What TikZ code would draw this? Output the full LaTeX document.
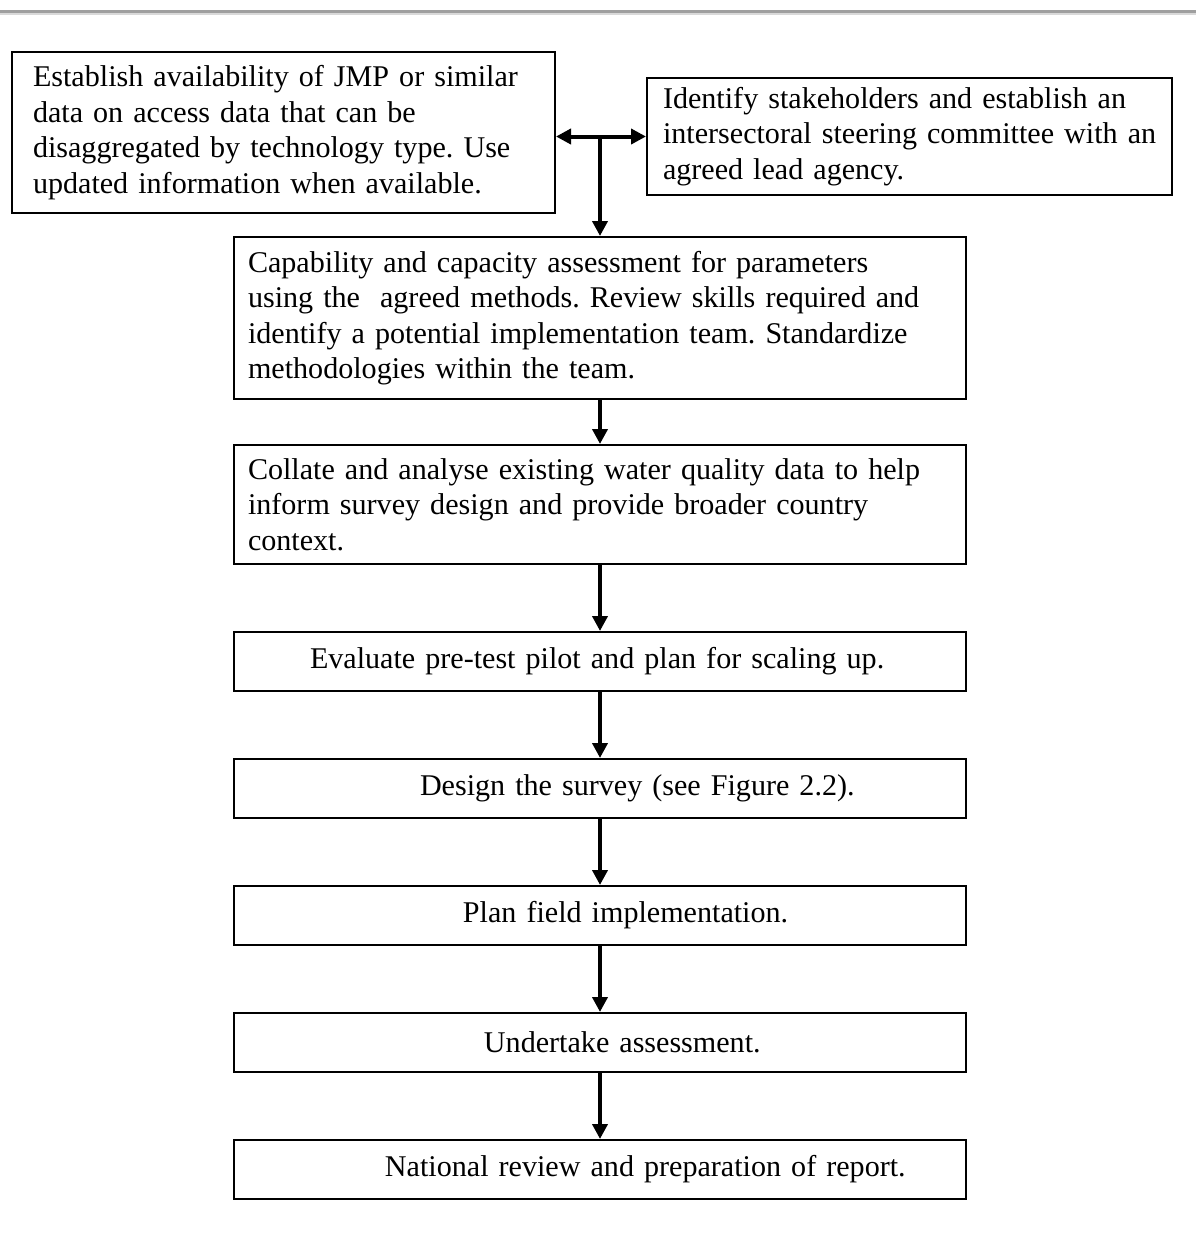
\documentclass[tikz,border=0pt]{standalone}
\usepackage{fontspec}
\setmainfont{Liberation Serif}
\usetikzlibrary{positioning,arrows.meta}

\tikzset{
  stage/.style={rectangle, draw, line width=1pt, inner xsep=7pt, text width=352pt, align=left, minimum height=29.5pt, font=\fontsize{15.05pt}{17.7pt}\selectfont\frenchspacing},
  arrow/.style={-{Triangle[length=7.5pt,width=7.5pt]}, line width=2pt},
  twoway/.style={{Triangle[length=7.5pt,width=7.5pt]}-{Triangle[length=7.5pt,width=7.5pt]}, line width=2pt},
}

\begin{document}
\begin{tikzpicture}
  \useasboundingbox (0,0) rectangle (598pt,-627.5pt);
  % page rule
  \draw[gray!75, line width=1.5pt] (0,-5.5pt) -- (598pt,-5.5pt);
  \draw[gray!30, line width=0.8pt] (0,-7pt) -- (598pt,-7pt);

  \node[stage, inner xsep=10.5pt, text width=250.5pt, minimum height=80.5pt] (jmp) at (141.75pt,-66.25pt)
    {Establish availability of JMP or similar\\ data on access data that can be\\ disaggregated by technology type. Use\\ updated information when available.};
  \node[stage, inner xsep=8pt, text width=246.5pt, minimum height=58.5pt] (stake) at (454.75pt,-68.25pt)
    {Identify stakeholders and establish an\\ \mbox{intersectoral steering committee with an}\\ agreed lead agency.};
  \node[stage, minimum height=81pt, anchor=north] (capab) at (300pt,-118pt)
    {Capability and capacity assessment for parameters\\ using the \ agreed methods. Review skills required and\\ identify a potential implementation team. Standardize\\ methodologies within the team.};
  \node[stage, minimum height=59.5pt, below=22pt of capab] (collate)
    {Collate and analyse existing water quality data to help\\ inform survey design and provide broader country\\ context.};
  \node[stage, below=33pt of collate] (pilot) {\hspace*{31pt}Evaluate pre-test pilot and plan for scaling up.};
  \node[stage, below=33pt of pilot]   (design) {\hspace*{86pt}Design the survey (see Figure 2.2).};
  \node[stage, below=33pt of design]  (field)  {\hspace*{107.5pt}Plan field implementation.};
  \node[stage, below=33pt of field]   (under)  {\hspace*{118pt}Undertake assessment.};
  \node[stage, below=33pt of under]   (report) {\hspace*{68.5pt}National review and preparation of report.};

  \coordinate (jn) at (capab.north |- stake.west);
  \draw[twoway] (jmp.east |- jn) -- (stake.west);
  \draw[arrow] (jn) -- (capab.north);
  \draw[arrow] (capab) -- (collate);
  \draw[arrow] (collate) -- (pilot);
  \draw[arrow] (pilot) -- (design);
  \draw[arrow] (design) -- (field);
  \draw[arrow] (field) -- (under);
  \draw[arrow] (under) -- (report);
\end{tikzpicture}
\end{document}
